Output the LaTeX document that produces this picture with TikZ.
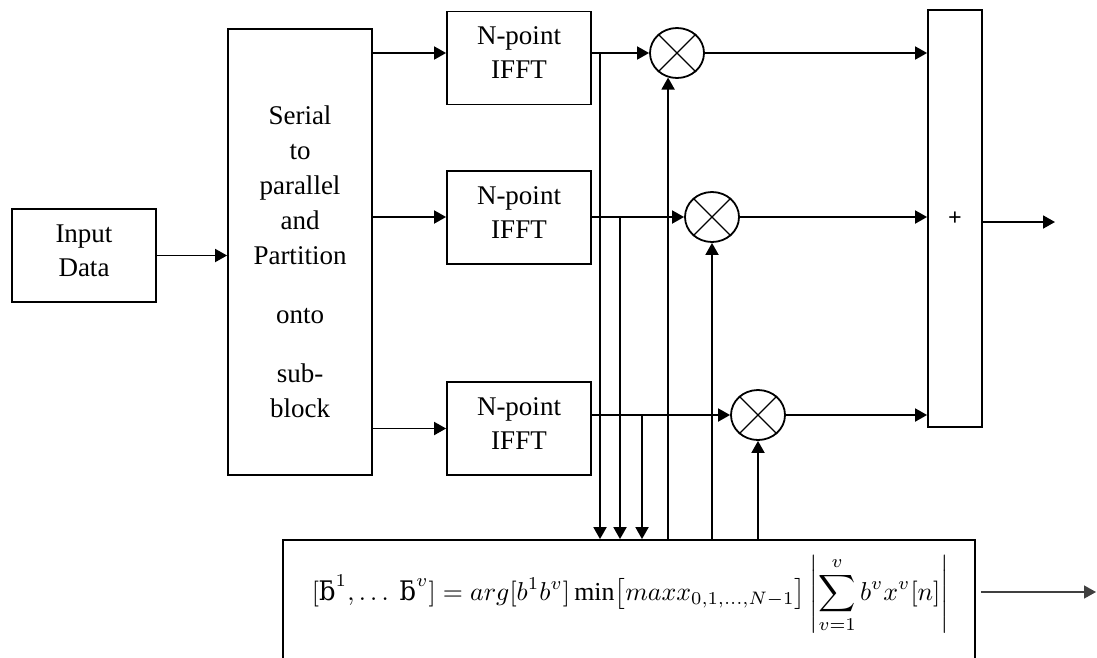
\documentclass[tikz,border=0pt]{standalone}
\usepackage{graphicx}
\usepackage{fontspec}
\setmainfont{Liberation Serif}
\newfontfamily\djv{DejaVu Serif}
\usetikzlibrary{arrows.meta,shapes.geometric,calc}
\begin{document}
\begin{tikzpicture}[x=1pt,y=-1pt,
  line width=1.8pt,
  txt/.style={align=center, inner sep=0pt, font=\fontsize{27}{34}\selectfont},
  box/.style={draw, rectangle, inner sep=0pt, txt},
  ifft/.style={box, minimum width=144pt, minimum height=93pt, text depth=10pt},
  mult/.style={draw, ellipse, minimum width=54pt, minimum height=50pt, inner sep=0pt},
  arr/.style={-{Triangle[length=12pt,width=13pt]}},
]
\path[use as bounding box] (0,0) rectangle (1097,657);

% blocks
\node[box, minimum width=144pt, minimum height=93pt, text depth=10pt] (inp) at (84,255.5) {Input\\Data};
\node[draw, rectangle, minimum width=144pt, minimum height=446pt] (sp) at (300,252) {};
\node[txt, font=\fontsize{27}{35}\selectfont] (sptxt) at (300,262)
  {Serial\\to\\parallel\\and\\Partition\\[24pt]onto\\[24pt]sub-\\block};
\node[ifft] (f1) at (519,58) {N-point\\IFFT};
\node[ifft] (f2) at (519,217.5) {N-point\\IFFT};
\node[ifft] (f3) at (519,428.5) {N-point\\IFFT};
\node[mult] (m1) at (677,53) {};
\node[mult] (m2) at (712,217) {};
\node[mult] (m3) at (758,415) {};
\node[draw, rectangle, minimum width=54pt, minimum height=417pt, inner sep=0pt,
      font=\fontsize{24}{24}\selectfont\bfseries] (pl) at (955,218.5) {+};
\node[draw, rectangle, minimum width=692pt, minimum height=120pt] (sel) at (629,600) {};
\node[inner sep=0pt] (eq) at (630.5,594)
  {\resizebox{637pt}{!}{$\displaystyle [\mbox{\djv ƃ}^1,\ldots\ \mbox{\djv ƃ}^v] = arg[b^1b^v]\min\bigl[maxx_{0,1,\ldots,N-1}\bigr]\left|\sum_{v=1}^{v} b^v x^v[n]\right|$}};

% crosses in multipliers
\foreach \m in {m1,m2,m3}{
  \draw[line width=1.3pt] (\m.45) -- (\m.225) (\m.135) -- (\m.315);
}

% coordinates
\coordinate (j1) at (600,53);
\coordinate (j2) at (620,217);
\coordinate (j3) at (642,415);
\coordinate (o1) at (1055,222);
\coordinate (o2) at (1096,592);

% connectors
\draw[arr] (inp.east) -- (inp.east -| sp.west);
\draw[arr] (sp.east |- m1) -- (f1.west |- m1);
\draw[arr] (sp.east |- m2) -- (f2.west |- m2);
\draw[arr] (sp.east |- f3) -- (f3.west);

\draw[arr] (f1.east |- m1) -- (m1.west);
\draw[arr] (f2.east |- m2) -- (m2.west);
\draw[arr] (f3.east |- m3) -- (m3.west);

\draw[arr] (m1.east) -- (m1 -| pl.west);
\draw[arr] (m2.east) -- (m2 -| pl.west);
\draw[arr] (m3.east) -- (m3 -| pl.west);
\draw[arr] (pl.east |- o1) -- (o1);

\draw[arr] (j1) -- (j1 |- sel.north);
\draw[arr] (j2) -- (j2 |- sel.north);
\draw[arr] (j3) -- (j3 |- sel.north);

\draw[arr] (m1.-110 |- sel.north) -- (m1.-110);
\draw[arr] (m2.south |- sel.north) -- (m2.south);
\draw[arr] (m3.south |- sel.north) -- (m3.south);

\draw[arr, line width=1.4pt, black!75] ($(sel.east |- o2)+(5,0)$) -- (o2);
\end{tikzpicture}
\end{document}
